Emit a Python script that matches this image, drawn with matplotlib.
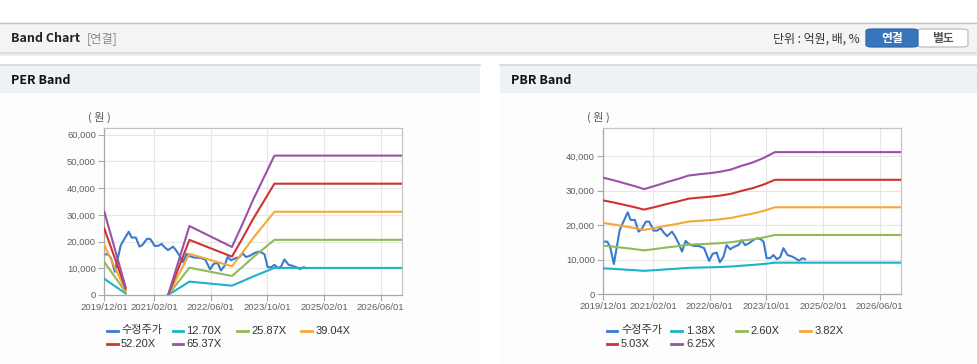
import numpy as np
import pandas as pd
import matplotlib
matplotlib.use("Agg")
import matplotlib.pyplot as plt
import matplotlib.dates as mdates
from matplotlib.patches import Rectangle, FancyBboxPatch
from matplotlib.lines import Line2D
from matplotlib.ticker import FuncFormatter

W, H = 978, 364

# adjusted share price (수정주가)
price_dates = [
    "2019-12-01", "2020-01-04", "2020-01-28", "2020-03-01", "2020-03-25", "2020-04-20",
    "2020-05-15", "2020-06-28", "2020-07-22", "2020-08-28", "2020-09-28", "2020-10-25",
    "2020-12-01", "2020-12-28", "2021-01-20", "2021-02-04", "2021-03-07", "2021-04-07",
    "2021-05-01", "2021-06-01", "2021-07-13", "2021-08-07", "2021-09-07", "2021-10-07",
    "2021-11-07", "2021-12-01", "2022-01-10", "2022-03-04", "2022-04-15", "2022-05-28",
    "2022-06-28", "2022-08-01", "2022-08-28", "2022-09-28", "2022-10-25", "2022-11-25",
    "2022-12-28", "2023-02-04", "2023-03-04", "2023-04-01", "2023-05-04", "2023-06-13",
    "2023-07-16", "2023-08-13", "2023-09-07", "2023-10-04", "2023-11-04", "2023-12-01",
    "2024-01-01", "2024-01-28", "2024-02-25", "2024-04-01", "2024-05-07", "2024-06-10",
    "2024-07-07", "2024-08-07", "2024-08-28",
]
price = [
    15200, 15200, 13750, 8700, 13500, 18600, 20500, 23700, 21500, 21500, 18100, 18800,
    21000, 21000, 19600, 18400, 18400, 19100, 17900, 16800, 18100, 16800, 14800, 12300,
    15400, 14600, 14000, 13900, 13300, 9600, 11700, 12000, 9200, 10800, 14200, 13000,
    13700, 14200, 15600, 14200, 14700, 15700, 16200, 15900, 15200, 10400, 10400, 11300,
    10100, 10700, 13300, 11300, 10900, 10300, 9700, 10400, 10100,
]

# EPS used for the PER band (None = no band)
eps_dates = ["2019-12-01", "2020-06-01", "2020-06-02", "2021-06-01", "2021-12-01",
             "2022-12-01", "2023-03-01", "2023-06-01", "2023-09-01", "2023-12-01",
             "2026-12-01"]
eps = [477, 45, None, 0, 395, 275, 405, 545, 672, 798, 798]
per_multiples = [12.70, 25.87, 39.04, 52.20, 65.37]

# BPS used for the PBR band
bps_dates = ["2019-12-01", "2020-03-01", "2020-06-01", "2020-09-01", "2020-11-15",
             "2021-03-01", "2021-06-01", "2021-09-01", "2021-12-01", "2022-03-01",
             "2022-06-01", "2022-09-01", "2022-12-01", "2023-03-01", "2023-06-01",
             "2023-09-01", "2023-12-15", "2026-12-01"]
bps = [5400, 5280, 5140, 5000, 4870, 5040, 5200, 5340, 5500, 5560,
       5610, 5680, 5780, 5950, 6100, 6300, 6590, 6590]
pbr_multiples = [1.38, 2.60, 3.82, 5.03, 6.25]

tick_dates = ["2019-12-01", "2021-02-01", "2022-06-01", "2023-10-01", "2025-02-01", "2026-06-01"]
price_label = "수정주가"

price_color = "#3a7bd0"
band_colors = ["#1cb2c8", "#92bb56", "#f4a838", "#cf3431", "#9a52a6"]

CJK = ["Noto Sans CJK KR", "DejaVu Sans"]
LAT = ["Liberation Sans", "Noto Sans CJK KR"]

fig = plt.figure(figsize=(W / 100, H / 100), dpi=100)
fig.patch.set_facecolor("white")


def fx(x):
    return x / W


def fy(y):
    return 1 - y / H


def rect(x0, y0, x1, y1, color, **kw):
    fig.add_artist(Rectangle((fx(x0), fy(y1)), fx(x1) - fx(x0), fy(y0) - fy(y1),
                             transform=fig.transFigure, facecolor=color,
                             edgecolor="none", zorder=-10, **kw))


def hline(x0, x1, y, color, lw=1.0):
    fig.add_artist(Line2D([fx(x0), fx(x1)], [fy(y), fy(y)], transform=fig.transFigure,
                          color=color, lw=lw, zorder=-5))


# top header bar
rect(0, 22, W, 53, "#f4f4f4")
hline(0, W, 22.5, "#c6c6c6")
hline(0, W, 53, "#d8d8d8", lw=1.2)
hline(0, W, 54.5, "#ececec", lw=1.2)
fig.text(fx(11), fy(39), "Band Chart", family=CJK, fontsize=9, fontweight="bold",
         color="#222222", va="center")
fig.text(fx(87), fy(39), "[연결]", family=CJK, fontsize=8.8, color="#888888", va="center")
fig.text(fx(860), fy(39), "단위 : 억원, 배, %", family=CJK, fontsize=8.6,
         color="#333333", va="center", ha="right")
fig.add_artist(FancyBboxPatch((fx(917), fy(47)), fx(968) - fx(917), fy(29) - fy(47),
                              boxstyle="round,pad=0,rounding_size=0.006",
                              transform=fig.transFigure, facecolor="white",
                              edgecolor="#bdbdbd", lw=0.9))
fig.add_artist(FancyBboxPatch((fx(866), fy(47)), fx(918) - fx(866), fy(29) - fy(47),
                              boxstyle="round,pad=0,rounding_size=0.006",
                              transform=fig.transFigure, facecolor="#3776bd",
                              edgecolor="#2d68ad", lw=0.9))
fig.text(fx(892), fy(38.5), "연결", family=CJK, fontsize=8.5, fontweight="bold",
         color="white", va="center", ha="center")
fig.text(fx(943), fy(38.5), "별도", family=CJK, fontsize=8.5, fontweight="bold",
         color="#555555", va="center", ha="center")

# panels
for x0, x1, title in [(0, 480, "PER Band"), (500, W, "PBR Band")]:
    rect(x0, 64.5, x1, H, "#fdfdfd")
    rect(x0, 64.5, x1, 92.5, "#eef2f6")
    hline(x0, x1, 64.5, "#d4d8dc", lw=1.2)
    fig.text(fx(x0 + 11), fy(80), title, family=CJK, fontsize=9, fontweight="bold",
             color="#111111", va="center")


def setup_axes(rect_px, ymax, yticks):
    x0, y0, x1, y1 = rect_px
    ax = fig.add_axes([fx(x0), fy(y1), fx(x1) - fx(x0), fy(y0) - fy(y1)])
    ax.set_facecolor("white")
    ax.set_xlim(pd.Timestamp("2019-12-01"), pd.Timestamp("2026-12-01"))
    ax.set_ylim(0, ymax)
    ax.set_yticks(yticks)
    ax.set_xticks(pd.to_datetime(tick_dates))
    ax.xaxis.set_major_formatter(mdates.DateFormatter("%Y/%m/%d"))
    ax.yaxis.set_major_formatter(FuncFormatter(lambda v, p: f"{v:,.0f}"))
    ax.grid(True, color="#e6e6e6", lw=0.8)
    ax.set_axisbelow(True)
    for s in ax.spines.values():
        s.set_color("#c4c4c4")
        s.set_linewidth(0.9)
    ax.spines["left"].set_color("#a8a8a8")
    ax.spines["bottom"].set_color("#a8a8a8")
    ax.tick_params(axis="both", length=4, width=0.8, color="#a8a8a8",
                   labelcolor="#606060", labelsize=6.8, pad=2)
    for lab in ax.get_xticklabels() + ax.get_yticklabels():
        lab.set_family(LAT)
    return ax


def draw_band_chart(ax, base_dates, base, multiples):
    ax.plot(pd.to_datetime(price_dates), price, color=price_color, lw=1.5, zorder=2)
    base_arr = np.array([np.nan if v is None else v for v in base], dtype=float)
    for m, c in zip(multiples, band_colors):
        ax.plot(pd.to_datetime(base_dates), base_arr * m, color=c, lw=1.5, zorder=3)


def draw_legend(x_marks, x_texts, rows, labels, colors):
    for i, (lab, col) in enumerate(zip(labels, colors)):
        r, k = divmod(i, 4)
        y = rows[r]
        xm = x_marks[k]
        fig.add_artist(Line2D([fx(xm), fx(xm + 11)], [fy(y), fy(y)],
                              transform=fig.transFigure, color=col, lw=2))
        fig.text(fx(x_texts[k]), fy(y), lab, family=LAT, fontsize=8,
                 color="#333333", va="center")


# PER chart
ax1 = setup_axes((104.3, 128, 402, 295), 62500, [0, 10000, 20000, 30000, 40000, 50000, 60000])
draw_band_chart(ax1, eps_dates, eps, per_multiples)
fig.text(fx(99), fy(117), "( 원 )", family=CJK, fontsize=8, color="#555555",
         ha="center", va="center")
draw_legend([107.5, 172.5, 237.5, 301.5], [121, 186, 251, 316], [330.5, 344],
            [price_label] + [f"{m:.2f}X" for m in per_multiples],
            [price_color] + band_colors)

# PBR chart
ax2 = setup_axes((603.3, 128.3, 901, 294), 48100, [0, 10000, 20000, 30000, 40000])
draw_band_chart(ax2, bps_dates, bps, pbr_multiples)
fig.text(fx(598), fy(117), "( 원 )", family=CJK, fontsize=8, color="#555555",
         ha="center", va="center")
draw_legend([606.5, 671, 736.5, 800.5], [621, 686, 750, 815], [330.5, 344],
            [price_label] + [f"{m:.2f}X" for m in pbr_multiples],
            [price_color] + band_colors)

fig.savefig("out.png", dpi=100)
